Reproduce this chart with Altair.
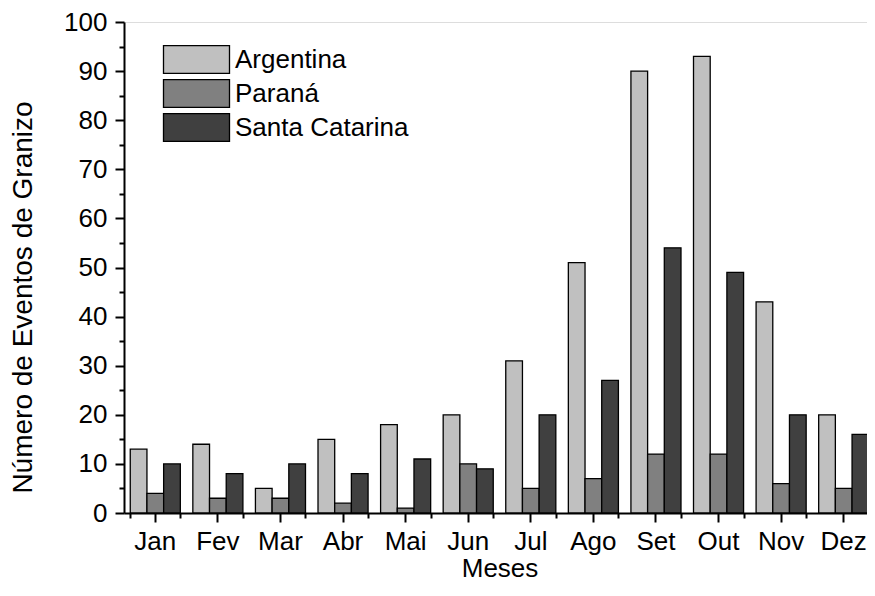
import altair as alt
import pandas as pd

meses = ["Jan", "Fev", "Mar", "Abr", "Mai", "Jun", "Jul", "Ago", "Set", "Out", "Nov", "Dez"]
series = ["Argentina", "Paraná", "Santa Catarina"]
argentina = [13, 14, 5, 15, 18, 20, 31, 51, 90, 93, 43, 20]
parana = [4, 3, 3, 2, 1, 10, 5, 7, 12, 12, 6, 5]
santa_catarina = [10, 8, 10, 8, 11, 9, 20, 27, 54, 49, 20, 16]
cores = ["#c0c0c0", "#808080", "#404040"]

rows = []
for nome, vals in zip(series, [argentina, parana, santa_catarina]):
    for m, v in zip(meses, vals):
        rows.append({"Mes": m, "Serie": nome, "Valor": v})
df = pd.DataFrame(rows)

FONT = "Liberation Sans"

xscale = alt.Scale(paddingInner=0.2, paddingOuter=0.1)

bars = alt.Chart(df).mark_bar(stroke="black", strokeWidth=1.3).encode(
    x=alt.X("Mes:N", sort=meses, scale=xscale,
            axis=alt.Axis(title="Meses", labelAngle=0, tickSize=9, tickWidth=2,
                          domainWidth=2, domainColor="black", tickColor="black",
                          labelFontSize=26, titleFontSize=26, labelPadding=6,
                          titlePadding=1, titleFontWeight="normal", orient="bottom")),
    xOffset=alt.XOffset("Serie:N", sort=series, scale=alt.Scale(paddingInner=0, paddingOuter=0)),
    y=alt.Y("Valor:Q", scale=alt.Scale(domain=[0, 100], nice=False),
            axis=alt.Axis(title="Número de Eventos de Granizo",
                          values=list(range(0, 101, 5)),
                          labelExpr="datum.value % 10 === 0 ? datum.label : ''",
                          tickSize={"condition": {"test": "datum.value % 10 === 0", "value": 9}, "value": 5},
                          tickWidth=2, domainWidth=2, domainColor="black", tickColor="black",
                          grid=False, labelFontSize=26, titleFontSize=28, labelPadding=8,
                          titlePadding=26, titleY=275, titleFontWeight="normal")),
    color=alt.Color("Serie:N", sort=series,
                    scale=alt.Scale(domain=series, range=cores),
                    legend=alt.Legend(title=None, orient="none", legendX=55, legendY=20,
                                      symbolType="M-2,-0.84H2V0.84H-2Z", symbolSize=1089,
                                      symbolStrokeColor="black", symbolStrokeWidth=1.3,
                                      symbolOpacity=1, labelFontSize=26, labelOffset=21,
                                      labelLimit=0, rowPadding=-2, labelFont=FONT)),
)

minor = alt.Chart(df).mark_bar(opacity=0).encode(
    x=alt.X("Mes:N", sort=meses, scale=xscale,
            axis=alt.Axis(title=None, labels=False, domain=False, tickBand="extent",
                          tickSize=5, tickWidth=2, tickColor="black", orient="bottom")),
)

chart = alt.layer(bars, minor).resolve_axis(x="independent").properties(
    width=751, height=491,
    autosize=alt.AutoSizeParams(type="none"),
    padding={"left": 116, "right": -8, "top": 14, "bottom": 68},
).configure_view(stroke="black", strokeWidth=1.5).configure(
    font=FONT
).configure_axis(labelFont=FONT, titleFont=FONT, labelColor="black", titleColor="black")

chart.save("out.html", embed_options={"renderer": "svg", "actions": False})
